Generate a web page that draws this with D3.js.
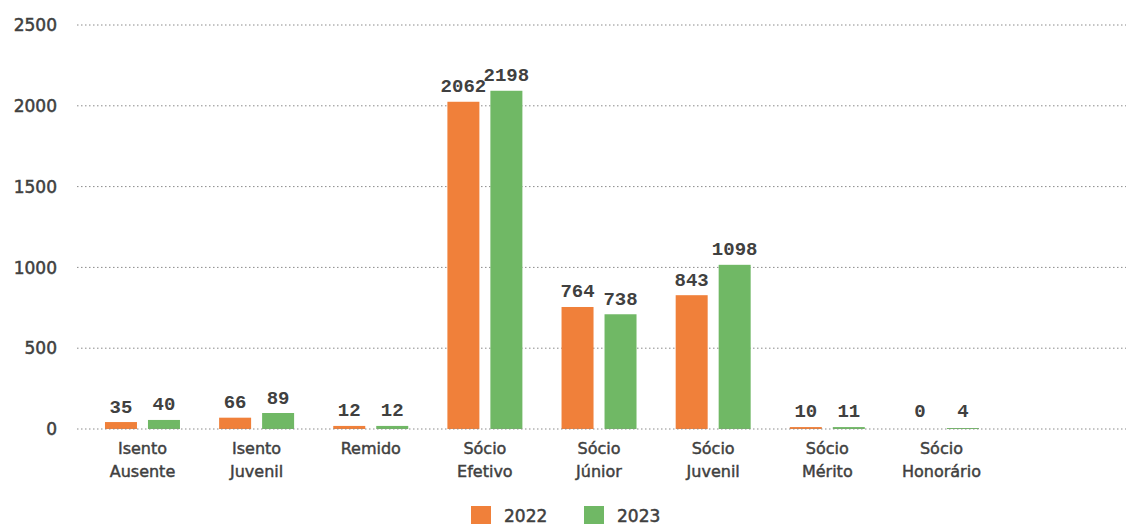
<!DOCTYPE html>
<html>
<head>
<meta charset="utf-8">
<script src="https://cdn.jsdelivr.net/npm/d3@7"></script>
<style>
  body { margin: 0; background: #fff; }
  text { fill: #404040; }
  .tick-label { font-family: "DejaVu Sans", sans-serif; font-size: 17px; stroke: #404040; stroke-width: 0.5px; }
  .cat-label { font-family: "DejaVu Sans", sans-serif; font-size: 16px; stroke: #404040; stroke-width: 0.45px; }
  .val-label { font-family: "Liberation Mono", monospace; font-size: 19px; font-weight: bold; }
  .legend-label { font-family: "DejaVu Sans", sans-serif; font-size: 17px; stroke: #404040; stroke-width: 0.5px; }
</style>
</head>
<body>
<div id="main"></div>
<script>
var categories = ["Isento Ausente", "Isento Juvenil", "Remido", "Sócio Efetivo", "Sócio Júnior", "Sócio Juvenil", "Sócio Mérito", "Sócio Honorário"];
var years = ["2022", "2023"];
// numbers printed above the bars
var labels2022 = [35, 66, 12, 2062, 764, 843, 10, 0];
var labels2023 = [40, 89, 12, 2198, 738, 1098, 11, 4];
// bar heights as drawn in the picture (read against the axis)
var bars2022 = [43, 70, 19, 2025, 755, 828, 12, 0];
var bars2023 = [56, 99, 19, 2093, 710, 1016, 12, 6];
var yTicks = [0, 500, 1000, 1500, 2000, 2500];

var colors = { "2022": "#F0803A", "2023": "#70B865" };
var width = 1126, height = 524;

var svg = d3.select("#main").append("svg")
  .attr("width", width).attr("height", height);

var y = d3.scaleLinear().domain([0, 2500]).range([429, 25]);

var x0 = d3.scaleBand().domain(categories)
  .range([85.4, 85.4 + 8 * 114.14])
  .paddingInner(0.343).paddingOuter(0.1715);
var x1 = d3.scaleBand().domain(years)
  .range([0, x0.bandwidth()])
  .paddingInner(0.2558);

var rows = categories.map(function(c, i) {
  return {
    cat: c,
    vals: [
      { year: "2022", bar: bars2022[i], label: labels2022[i] },
      { year: "2023", bar: bars2023[i], label: labels2023[i] }
    ]
  };
});

function gridLines(sel, ticks) {
  sel.selectAll("line").data(ticks).enter().append("line")
    .attr("x1", 77).attr("x2", width)
    .attr("y1", function(d) { return y(d); })
    .attr("y2", function(d) { return y(d); })
    .attr("stroke", "#8a8a8a")
    .attr("stroke-width", 1)
    .attr("stroke-dasharray", "1.5,2.5");
}

// grid behind bars
svg.append("g").call(gridLines, yTicks.filter(function(t) { return t > 0; }));

svg.append("g").selectAll("text").data(yTicks).enter().append("text")
  .attr("class", "tick-label")
  .attr("x", 57).attr("y", function(d) { return y(d); })
  .attr("dy", "0.36em")
  .attr("text-anchor", "end")
  .text(function(d) { return d; });

var groups = svg.append("g").selectAll("g").data(rows).enter().append("g")
  .attr("transform", function(d) { return "translate(" + x0(d.cat) + ",0)"; });

groups.selectAll("rect").data(function(d) { return d.vals; }).enter().append("rect")
  .attr("x", function(d) { return x1(d.year); })
  .attr("width", x1.bandwidth())
  .attr("y", function(d) { return y(d.bar); })
  .attr("height", function(d) { return y(0) - y(d.bar); })
  .attr("fill", function(d) { return colors[d.year]; });

groups.selectAll("text.val-label").data(function(d) { return d.vals; }).enter().append("text")
  .attr("class", "val-label")
  .attr("x", function(d) { return x1(d.year) + x1.bandwidth() / 2; })
  .attr("y", function(d) { return Math.min(y(d.bar), y(0) - 3) - 9.5; })
  .attr("text-anchor", "middle")
  .text(function(d) { return d.label; });

// zero line on top of bars
svg.append("g").call(gridLines, [0]);

// category labels (two lines)
var cat = svg.append("g").selectAll("text").data(categories).enter().append("text")
  .attr("class", "cat-label")
  .attr("text-anchor", "middle")
  .attr("x", function(d) { return x0(d) + x0.bandwidth() / 2; })
  .attr("y", 454);
cat.each(function(d) {
  var parts = d.split(" ");
  var t = d3.select(this);
  parts.forEach(function(p, i) {
    t.append("tspan")
      .attr("x", x0(d) + x0.bandwidth() / 2)
      .attr("dy", i === 0 ? 0 : 22.7)
      .text(p);
  });
});

// legend
var legendX = [471, 584];
var legend = svg.append("g").selectAll("g").data(years).enter().append("g")
  .attr("transform", function(d, i) { return "translate(" + legendX[i] + ",506)"; });
legend.append("rect")
  .attr("width", 20).attr("height", 20)
  .attr("fill", function(d) { return colors[d]; });
legend.append("text")
  .attr("class", "legend-label")
  .attr("x", 33).attr("y", 15.5)
  .text(function(d) { return d; });
</script>
</body>
</html>
